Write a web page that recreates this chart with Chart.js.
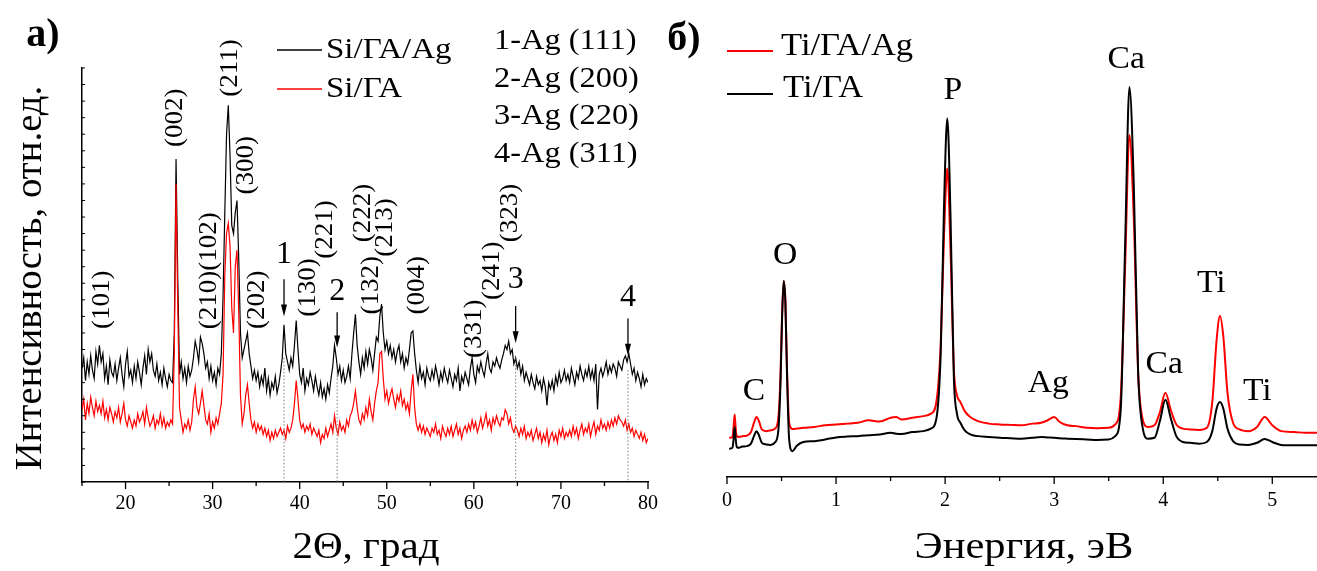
<!DOCTYPE html>
<html>
<head>
<meta charset="utf-8">
<script src="https://cdn.jsdelivr.net/npm/chart.js@4.4.1/dist/chart.umd.min.js"></script>
<style>
html, body { margin: 0; padding: 0; background: #fff; }
#wrap { position: relative; width: 1317px; height: 571px; overflow: hidden; }
#xrd { position: absolute; left: 0; top: 0; }
#eds { position: absolute; left: 660px; top: 0; }
</style>
</head>
<body>
<div id="wrap">
  <canvas id="xrd" width="660" height="571"></canvas>
  <canvas id="eds" width="657" height="571"></canvas>
</div>
<script>
// ---- panel a: XRD, 2theta grid 15..80 step 0.2 ----
const thetaStart = 15;
const thetaStep = 0.2;

// Si/ГА/Ag (black)
const xrdSiHAAg = [
  55, 60, 49, 58, 52, 61, 54, 50, 63, 57,
  66, 58, 62, 50, 56, 47, 59, 53, 51, 57,
  49, 55, 60, 52, 46, 57, 63, 51, 54, 48,
  56, 50, 58, 53, 47, 55, 61, 52, 64, 58,
  62, 54, 51, 57, 49, 53, 47, 55, 50, 46,
  52, 49, 48, 72, 156, 98, 52, 58, 50, 55,
  48, 56, 51, 54, 60, 68, 64, 58, 70, 67,
  62, 55, 58, 50, 56, 49, 53, 47, 55, 52,
  62, 90, 130, 168, 182, 158, 124, 120, 130, 136,
  108, 72, 60, 64, 68, 72, 62, 56, 50, 54,
  49, 53, 46, 51, 47, 55, 44, 50, 42, 48,
  45, 51, 43, 47, 53, 60, 76, 62, 58, 54,
  60, 56, 66, 78, 64, 52, 48, 55, 44, 50,
  47, 53, 49, 44, 51, 46, 42, 48, 41, 45,
  40, 47, 43, 50, 56, 66, 60, 52, 56, 49,
  54, 48, 51, 56, 50, 62, 72, 81, 66, 58,
  52, 60, 55, 63, 57, 64, 60, 54, 62, 70,
  68, 80, 86, 72, 64, 68, 62, 66, 60, 64,
  58, 63, 66, 58, 62, 55, 60, 57, 64, 72,
  73, 62, 54, 48, 56, 50, 53, 47, 55, 51,
  49, 54, 50, 56, 52, 47, 53, 49, 55, 51,
  48, 54, 50, 46, 52, 49, 55, 44, 51, 48,
  53, 50, 47, 55, 60, 52, 48, 56, 53, 58,
  54, 51, 57, 62, 55, 53, 58, 56, 60, 57,
  55, 59, 62, 66, 64, 68, 62, 64, 57, 60,
  55, 58, 52, 56, 49, 53, 50, 47, 52, 48,
  45, 51, 47, 49, 44, 50, 46, 37, 48, 45,
  49, 44, 51, 47, 53, 48, 50, 54, 49, 52,
  48, 55, 51, 47, 53, 50, 56, 52, 49, 54,
  51, 56, 50, 54, 49, 57, 35, 52, 55, 51,
  54, 58, 52, 56, 53, 57, 55, 51, 58, 56,
  54, 59, 61, 58, 62, 57, 52, 55, 49, 53,
  50, 46, 52, 47, 50, 48
];

// Si/ГА (red)
const xrdSiHA = [
  35, 40, 30, 38, 33, 41, 36, 32, 39, 34,
  37, 33, 39, 31, 35, 30, 36, 33, 29, 34,
  31, 36, 29, 33, 38, 30, 27, 32, 29, 26,
  30, 27, 33, 29, 31, 34, 28, 36, 31, 27,
  29, 32, 26, 30, 28, 33, 27, 31, 26, 29,
  27, 30, 28, 62, 144, 84, 36, 30, 24, 28,
  26, 30, 25, 29, 40, 46, 36, 33, 38, 44,
  37, 30, 28, 33, 24, 29, 26, 31, 28, 33,
  38, 52, 100, 120, 125, 114, 84, 72, 104, 112,
  82, 42, 28, 33, 42, 47, 38, 30, 26, 29,
  24, 28, 25, 27, 23, 26, 22, 25, 20, 24,
  21, 25, 22, 24, 26, 23, 25, 21, 27, 24,
  26, 30, 38, 49, 40, 30, 26, 28, 24, 27,
  25, 28, 23, 26, 24, 22, 25, 19, 23, 21,
  26, 22, 25, 28, 24, 32, 26, 23, 29, 25,
  27, 24, 30, 27, 32, 34, 38, 44, 36, 30,
  28, 33, 30, 36, 32, 40, 34, 30, 38, 44,
  48, 62, 63, 50, 40, 44, 38, 42, 45, 40,
  36, 42, 39, 44, 37, 40, 35, 38, 33, 44,
  52, 36, 28, 25, 28, 24, 27, 23, 26, 24,
  22, 26, 24, 28, 23, 25, 21, 27, 24, 22,
  26, 23, 27, 22, 25, 28, 23, 26, 21, 25,
  27, 24, 28, 25, 30, 26, 29, 24, 27, 31,
  26, 29, 33, 27, 30, 25, 31, 28, 32, 29,
  27, 31, 30, 35, 33, 28, 31, 26, 24, 27,
  25, 22, 26, 23, 27, 21, 24, 22, 25, 20,
  23, 26, 21, 24, 19, 23, 20, 25, 18, 22,
  24, 20, 23, 19, 25, 22, 26, 21, 24, 22,
  25, 22, 27, 23, 26, 21, 25, 28, 23, 26,
  24, 28, 22, 26, 29, 23, 27, 25, 30, 26,
  28, 25, 29, 26, 30, 27, 31, 28, 32, 30,
  29, 27, 30, 25, 28, 24, 26, 22, 25, 23,
  21, 24, 20, 23, 19, 21
];

// reflection labels (position in 2theta / intensity units)
const hklLabels = ['(101)', '(002)', '(210)(102)', '(211)', '(300)', '(202)', '(130)', '(221)', '(222)', '(132)', '(213)', '(004)', '(331)', '(241)', '(323)'];
const hklTheta = [17.4, 25.7, 29.6, 32.0, 33.85, 35.1, 41.0, 42.9, 47.3, 48.2, 49.9, 53.5, 60.1, 62.1, 64.2];
const hklLevel = [88, 176, 102, 200, 153, 88, 94, 122, 130, 95, 123, 95, 74, 102, 130];

// silver reflections
const agMarks = ['1', '2', '3', '4'];
const agTheta = [38.2, 44.3, 64.8, 77.7];
const agNames = ['1-Ag (111)', '2-Ag (200)', '3-Ag (220)', '4-Ag (311)'];

// ---- panel б: EDS ----
const edsEnergy = [0.02, 0.05, 0.06, 0.07, 0.08, 0.09, 0.11, 0.14, 0.18, 0.22,
  0.25, 0.27, 0.29, 0.32, 0.36, 0.40, 0.44, 0.47, 0.49, 0.505,
  0.52, 0.535, 0.55, 0.57, 0.60, 0.64, 0.70, 0.80, 0.90, 1.00,
  1.10, 1.20, 1.30, 1.40, 1.50, 1.55, 1.60, 1.70, 1.80, 1.87,
  1.92, 1.96, 1.99, 2.02, 2.05, 2.08, 2.11, 2.14, 2.18, 2.23,
  2.30, 2.40, 2.50, 2.60, 2.70, 2.80, 2.88, 2.94, 3.00, 3.05,
  3.12, 3.20, 3.30, 3.40, 3.50, 3.56, 3.61, 3.65, 3.69, 3.73,
  3.77, 3.81, 3.86, 3.92, 3.97, 4.02, 4.07, 4.12, 4.18, 4.25,
  4.33, 4.40, 4.45, 4.49, 4.52, 4.55, 4.59, 4.64, 4.70, 4.78,
  4.86, 4.93, 5.00, 5.08, 5.20, 5.30, 5.41];

// Ti/ГА (black)
const edsTiHA = [6.8, 7.0, 9.0, 12.0, 9.0, 7.2, 7.0, 7.3, 7.4, 8.0,
  10.0, 11.0, 10.2, 8.2, 7.8, 7.7, 8.3, 11.0, 22.0, 38.0,
  47.0, 42.0, 25.0, 9.0, 6.2, 7.5, 8.4, 8.6, 9.0, 9.5,
  9.7, 9.8, 10.0, 10.2, 10.6, 10.4, 10.3, 10.8, 11.0, 11.6,
  14.0, 30.0, 65.0, 86.0, 62.0, 24.0, 15.0, 13.0, 11.2, 10.2,
  9.8, 9.6, 9.4, 9.3, 9.2, 9.4, 9.6, 9.5, 9.4, 9.3,
  9.2, 9.1, 9.0, 8.9, 9.0, 9.8, 16.0, 55.0, 93.5, 70.0,
  25.0, 12.0, 9.2, 9.4, 13.5, 18.5, 14.0, 9.8, 8.4, 8.2,
  8.0, 8.4, 11.0, 16.5, 18.0, 16.5, 11.5, 8.6, 7.8, 7.7,
  8.2, 9.1, 8.4, 7.7, 7.6, 7.6, 7.6];

// Ti/ГА/Ag (red)
const edsTiHAAg = [9.4, 9.6, 12.0, 15.0, 11.5, 9.8, 9.6, 9.8, 9.9, 10.8,
  13.2, 14.4, 13.6, 11.4, 11.0, 11.2, 11.6, 14.0, 24.0, 39.0,
  47.0, 42.5, 26.0, 13.0, 11.5, 11.6, 11.8, 12.0, 12.4, 12.6,
  12.8, 13.0, 13.6, 13.3, 14.2, 14.4, 13.8, 14.2, 14.6, 15.2,
  18.0, 32.0, 58.0, 74.0, 54.0, 26.0, 19.5, 18.0, 15.8, 14.4,
  13.4, 12.8, 12.6, 12.5, 12.4, 12.8, 13.0, 13.6, 14.4, 13.2,
  12.4, 12.2, 11.8, 11.7, 11.8, 12.6, 19.0, 50.0, 82.0, 62.0,
  25.0, 14.0, 12.0, 12.4, 15.6, 20.2, 16.0, 12.6, 11.6, 11.4,
  11.3, 11.8, 18.0, 33.0, 38.6, 34.0, 20.0, 13.0, 11.4, 11.0,
  12.0, 14.4, 12.4, 11.0, 10.8, 10.6, 10.6];

const edsLabels = ['C', 'O', 'P', 'Ag', 'Ca', 'Ca', 'Ti', 'Ti'];
const edsLabelE = [0.248, 0.532, 2.07, 2.945, 3.661, 4.009, 4.44, 4.862];
const edsLabelLevel = [20.4, 53.2, 92.6, 22.5, 100.2, 26.9, 46.5, 20.4];

const SERIF = '"Liberation Serif", "Times New Roman", serif';

function txt(ctx, s, x, y, size, o) {
  o = o || {};
  ctx.save();
  ctx.translate(x, y);
  if (o.rot) ctx.rotate(o.rot);
  ctx.scale(o.sx || 1, 1);
  ctx.font = (o.bold ? 'bold ' : '') + size + 'px ' + SERIF;
  ctx.fillStyle = o.color || '#000';
  ctx.textAlign = o.align || 'center';
  ctx.textBaseline = 'middle';
  ctx.fillText(s, 0, 0);
  ctx.restore();
}

function seg(ctx, x1, y1, x2, y2, color, w) {
  ctx.beginPath();
  ctx.moveTo(x1, y1);
  ctx.lineTo(x2, y2);
  ctx.strokeStyle = color;
  ctx.lineWidth = w;
  ctx.stroke();
}

// outward tick marks on the x axis, longer every `major`
function xTicks(ctx, scale, major) {
  const top = scale.top;
  scale.ticks.forEach(t => {
    const v = t.value;
    const isMajor = Math.abs(v / major - Math.round(v / major)) < 1e-6;
    const px = scale.getPixelForValue(v);
    seg(ctx, px, top, px, top + (isMajor ? 7 : 4), '#000', 1.3);
  });
}

const noEdgePad = s => { s.paddingLeft = 0; s.paddingRight = 0; };

const xrdDecor = {
  id: 'xrdDecor',
  afterDraw(chart) {
    const ctx = chart.ctx;
    const xs = chart.scales.x, ys = chart.scales.y;
    const area = chart.chartArea;
    ctx.save();
    xTicks(ctx, xs, 10);
    // inward ticks on y axis
    ys.ticks.forEach(t => {
      const py = ys.getPixelForValue(t.value);
      seg(ctx, area.left, py, area.left + 3, py, '#000', 1);
    });
    // dotted guides for Ag peaks
    const dotTop = [60, 55, 60, 54];
    ctx.setLineDash([1.5, 2]);
    agTheta.forEach((th, i) => {
      const px = xs.getPixelForValue(th);
      seg(ctx, px, ys.getPixelForValue(dotTop[i]), px, area.bottom, '#777', 1);
    });
    ctx.setLineDash([]);
    // arrows and numbers
    const labLevel = [110, 92, 98, 89];
    const arTop = [98, 82, 85, 79];
    const arBot = [80, 65, 67, 61];
    agTheta.forEach((th, i) => {
      const px = xs.getPixelForValue(th);
      const y1 = ys.getPixelForValue(arTop[i]), y2 = ys.getPixelForValue(arBot[i]);
      seg(ctx, px, y1, px, y2 - 8, '#000', 1.3);
      ctx.beginPath();
      ctx.moveTo(px - 3, y2 - 12);
      ctx.lineTo(px + 3, y2 - 12);
      ctx.lineTo(px, y2);
      ctx.closePath();
      ctx.fillStyle = '#000';
      ctx.fill();
      txt(ctx, agMarks[i], px, ys.getPixelForValue(labLevel[i]), 32);
    });
    // hkl labels
    hklLabels.forEach((s, i) => {
      txt(ctx, s, xs.getPixelForValue(hklTheta[i]), ys.getPixelForValue(hklLevel[i]), 25, { rot: -Math.PI / 2, sx: 1.08 });
    });
    // axis titles, panel letter
    txt(ctx, '2Θ, град', 366, 548, 38, { sx: 1.08 });
    txt(ctx, 'Интенсивность, отн.ед.', 31, 278, 38, { rot: -Math.PI / 2, sx: 1.02 });
    txt(ctx, 'а)', 43, 36, 40, { bold: true });
    // legend
    seg(ctx, 277, 50, 322, 50, '#000', 1.3);
    txt(ctx, 'Si/ГА/Ag', 326, 50, 30, { align: 'left', sx: 1.1 });
    seg(ctx, 277, 89, 322, 89, '#ff0000', 1.3);
    txt(ctx, 'Si/ГА', 326, 89, 30, { align: 'left', sx: 1.1 });
    const agY = [41, 79, 116, 154];
    agNames.forEach((s, i) => txt(ctx, s, 494, agY[i], 30, { align: 'left', sx: 1.08 }));
    ctx.restore();
  }
};

const edsDecor = {
  id: 'edsDecor',
  afterDraw(chart) {
    const ctx = chart.ctx;
    const xs = chart.scales.x, ys = chart.scales.y;
    ctx.save();
    xTicks(ctx, xs, 1);
    edsLabels.forEach((s, i) => {
      txt(ctx, s, xs.getPixelForValue(edsLabelE[i]), ys.getPixelForValue(edsLabelLevel[i]), 32, { sx: 1.05 });
    });
    txt(ctx, 'Энергия, эВ', 364, 548, 38, { sx: 1.12 });
    txt(ctx, 'б)', 24, 40, 40, { bold: true });
    seg(ctx, 67, 51, 113, 51, '#ff0000', 2);
    txt(ctx, 'Ti/ГА/Ag', 121, 47, 32, { align: 'left', sx: 1.08 });
    seg(ctx, 67, 94, 113, 94, '#000', 2);
    txt(ctx, 'Ti/ГА', 123, 89, 32, { align: 'left', sx: 1.08 });
    ctx.restore();
  }
};

const xrdPts = arr => arr.map((v, i) => ({ x: thetaStart + i * thetaStep, y: v }));
const edsPts = arr => arr.map((v, i) => ({ x: edsEnergy[i], y: v }));

new Chart(document.getElementById('xrd'), {
  type: 'line',
  data: {
    datasets: [
      { label: 'Si/ГА', data: xrdPts(xrdSiHA), borderColor: '#ff0000', borderWidth: 1.2, pointRadius: 0, tension: 0 },
      { label: 'Si/ГА/Ag', data: xrdPts(xrdSiHAAg), borderColor: '#000000', borderWidth: 1.2, pointRadius: 0, tension: 0 }
    ]
  },
  options: {
    responsive: false,
    animation: false,
    devicePixelRatio: 1,
    layout: { padding: { left: 82, top: 68, right: 12, bottom: 0 } },
    plugins: { legend: { display: false }, tooltip: { enabled: false } },
    scales: {
      x: {
        type: 'linear', min: 15, max: 80,
        afterFit(s) { s.height = 89; noEdgePad(s); },
        grid: { display: false, drawTicks: false },
        border: { display: true, color: '#000', width: 1.5 },
        ticks: {
          stepSize: 5, autoSkip: false, maxRotation: 0, padding: 10, color: '#000',
          font: { family: SERIF, size: 20 },
          callback: v => (v % 10 === 0 ? v : '')
        }
      },
      y: {
        min: 0, max: 200,
        afterFit(s) { s.width = 0; },
        grid: { display: false, drawTicks: false },
        border: { display: true, color: '#000', width: 1.5 },
        ticks: { display: false, stepSize: 8 }
      }
    }
  },
  plugins: [xrdDecor]
});

new Chart(document.getElementById('eds'), {
  type: 'line',
  data: {
    datasets: [
      { label: 'Ti/ГА', data: edsPts(edsTiHA), borderColor: '#000000', borderWidth: 2, pointRadius: 0, cubicInterpolationMode: 'monotone' },
      { label: 'Ti/ГА/Ag', data: edsPts(edsTiHAAg), borderColor: '#ff0000', borderWidth: 2, pointRadius: 0, cubicInterpolationMode: 'monotone' }
    ]
  },
  options: {
    responsive: false,
    animation: false,
    devicePixelRatio: 1,
    layout: { padding: { left: 67, top: 60, right: 0, bottom: 0 } },
    plugins: { legend: { display: false }, tooltip: { enabled: false } },
    scales: {
      x: {
        type: 'linear', min: 0, max: 5.41,
        afterFit(s) { s.height = 94; noEdgePad(s); },
        grid: { display: false, drawTicks: false },
        border: { display: true, color: '#000', width: 1.5 },
        ticks: {
          stepSize: 0.5, includeBounds: false, autoSkip: false, maxRotation: 0, padding: 12, color: '#000',
          font: { family: SERIF, size: 20 },
          callback: v => (Number.isInteger(v) ? v : '')
        }
      },
      y: { display: false, min: 0, max: 100 }
    }
  },
  plugins: [edsDecor]
});
</script>
</body>
</html>
